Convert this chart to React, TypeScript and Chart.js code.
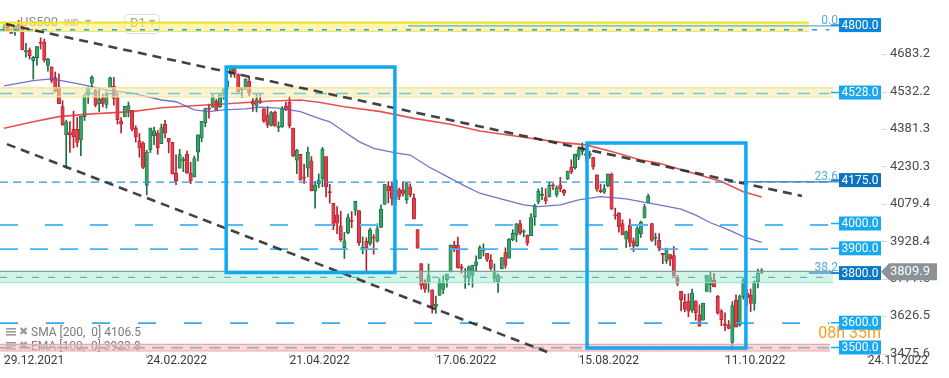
import React, { useEffect, useRef } from 'react';
import { Chart, registerables } from 'chart.js';

Chart.register(...registerables);

// ---------------- DATA ----------------
// Daily candles, 29.12.2021 .. 25.10.2022 (index 0 .. 207)
const OPEN = [
  4788, 4795, 4776, 4778, 4804, 4787, 4693, 4698, 4656, 4669,
  4728, 4733, 4637, 4632, 4588, 4548, 4471, 4357, 4367, 4380,
  4380, 4337, 4431, 4519, 4566, 4536, 4483, 4505, 4480, 4548,
  4553, 4506, 4413, 4430, 4456, 4456, 4385, 4333, 4324, 4155,
  4298, 4354, 4364, 4322, 4401, 4343, 4327, 4202, 4223, 4253,
  4280, 4202, 4188, 4288, 4345, 4407, 4462, 4469, 4494, 4470,
  4522, 4541, 4603, 4624, 4600, 4540, 4547, 4573, 4495, 4474,
  4495, 4462, 4437, 4395, 4449, 4385, 4390, 4473, 4490, 4385,
  4255, 4279, 4187, 4223, 4253, 4130, 4159, 4181, 4270, 4129,
  4081, 4035, 3991, 3903, 3963, 4014, 4053, 4052, 3900, 3928,
  3920, 3943, 3929, 3984, 4077, 4151, 4150, 4096, 4137, 4135,
  4096, 4148, 4102, 3975, 3838, 3764, 3764, 3733, 3666, 3710,
  3734, 3774, 3805, 3913, 3913, 3826, 3785, 3781, 3792, 3831,
  3858, 3888, 3880, 3851, 3779, 3764, 3818, 3883, 3860, 3935,
  3955, 4000, 3965, 3953, 3951, 4027, 4087, 4113, 4105, 4108,
  4154, 4116, 4156, 4134, 4181, 4227, 4225, 4270, 4291, 4281,
  4274, 4267, 4196, 4134, 4126, 4153, 4199, 4034, 4041, 4000,
  3937, 3994, 3930, 3910, 3959, 4022, 4083, 4000, 3940, 3932,
  3880, 3849, 3875, 3871, 3782, 3727, 3682, 3687, 3651, 3688,
  3633, 3610, 3726, 3753, 3772, 3706, 3647, 3595, 3591, 3520,
  3690, 3591, 3705, 3718, 3711, 3678, 3765, 3803,
];
const HIGH = [
  4804, 4808, 4787, 4797, 4819, 4797, 4726, 4708, 4674, 4714,
  4749, 4744, 4666, 4632, 4611, 4603, 4495, 4417, 4411, 4453,
  4428, 4432, 4516, 4550, 4595, 4542, 4540, 4522, 4531, 4590,
  4589, 4526, 4427, 4473, 4490, 4456, 4394, 4363, 4329, 4295,
  4385, 4389, 4375, 4401, 4416, 4343, 4327, 4277, 4299, 4268,
  4292, 4247, 4272, 4358, 4412, 4465, 4482, 4523, 4501, 4521,
  4546, 4576, 4637, 4627, 4604, 4549, 4583, 4593, 4504, 4521,
  4520, 4463, 4471, 4452, 4453, 4410, 4471, 4489, 4513, 4385,
  4299, 4279, 4240, 4308, 4270, 4169, 4200, 4307, 4270, 4158,
  4081, 4068, 4050, 3964, 4038, 4048, 4090, 4052, 3946, 3943,
  3982, 3955, 3999, 4075, 4158, 4169, 4166, 4177, 4143, 4168,
  4164, 4160, 4120, 3975, 3838, 3773, 3837, 3733, 3707, 3779,
  3790, 3796, 3914, 3928, 3945, 3836, 3818, 3829, 3832, 3870,
  3910, 3918, 3880, 3874, 3837, 3796, 3863, 3902, 3939, 3975,
  4000, 4013, 3975, 3954, 4040, 4078, 4140, 4145, 4140, 4167,
  4161, 4152, 4186, 4138, 4211, 4257, 4280, 4301, 4325, 4303,
  4292, 4267, 4196, 4159, 4157, 4200, 4204, 4062, 4044, 4015,
  3970, 4018, 3942, 3987, 4010, 4077, 4119, 4001, 3961, 3959,
  3880, 3901, 3877, 3907, 3790, 3727, 3715, 3717, 3736, 3688,
  3672, 3679, 3791, 3807, 3798, 3710, 3653, 3640, 3609, 3685,
  3712, 3712, 3780, 3735, 3736, 3768, 3816, 3818,
];
const LOW = [
  4778, 4775, 4766, 4758, 4774, 4700, 4671, 4663, 4582, 4638,
  4703, 4651, 4614, 4568, 4530, 4483, 4396, 4223, 4287, 4305,
  4309, 4274, 4415, 4484, 4544, 4470, 4451, 4470, 4465, 4548,
  4477, 4401, 4365, 4430, 4430, 4373, 4328, 4267, 4221, 4115,
  4286, 4318, 4279, 4322, 4345, 4285, 4199, 4157, 4223, 4209,
  4202, 4161, 4187, 4252, 4329, 4390, 4425, 4469, 4456, 4468,
  4501, 4517, 4590, 4589, 4530, 4507, 4539, 4514, 4452, 4450,
  4484, 4408, 4387, 4393, 4392, 4370, 4387, 4455, 4385, 4268,
  4201, 4175, 4162, 4188, 4131, 4062, 4144, 4148, 4107, 4082,
  3975, 3959, 3928, 3859, 3958, 3983, 4033, 3912, 3877, 3810,
  3912, 3876, 3925, 3984, 4077, 4083, 4074, 4074, 4096, 4110,
  4081, 4107, 4018, 3900, 3735, 3722, 3723, 3639, 3637, 3710,
  3717, 3743, 3805, 3886, 3820, 3799, 3738, 3752, 3743, 3809,
  3858, 3869, 3847, 3812, 3765, 3722, 3817, 3819, 3860, 3930,
  3927, 3955, 3946, 3911, 3951, 3992, 4079, 4096, 4079, 4107,
  4136, 4107, 4128, 4112, 4177, 4201, 4219, 4257, 4277, 4253,
  4263, 4218, 4130, 4124, 4121, 4147, 4057, 4017, 3965, 3954,
  3903, 3907, 3886, 3907, 3944, 4022, 4083, 3928, 3912, 3889,
  3838, 3839, 3830, 3789, 3749, 3648, 3644, 3624, 3641, 3610,
  3585, 3610, 3726, 3723, 3744, 3634, 3588, 3568, 3575, 3491,
  3582, 3585, 3695, 3668, 3645, 3650, 3740, 3798,
];
const CLOSE = [
  4793, 4778, 4766, 4797, 4793, 4701, 4696, 4677, 4670, 4713,
  4726, 4660, 4663, 4577, 4533, 4483, 4398, 4410, 4357, 4350,
  4327, 4432, 4516, 4546, 4589, 4477, 4501, 4484, 4521, 4587,
  4504, 4419, 4401, 4472, 4475, 4380, 4349, 4305, 4226, 4288,
  4385, 4374, 4306, 4387, 4364, 4329, 4201, 4171, 4278, 4260,
  4204, 4173, 4262, 4358, 4412, 4463, 4461, 4512, 4456, 4520,
  4543, 4575, 4632, 4602, 4530, 4546, 4583, 4525, 4481, 4500,
  4488, 4413, 4397, 4447, 4392, 4391, 4463, 4459, 4394, 4272,
  4296, 4175, 4183, 4288, 4132, 4155, 4175, 4300, 4147, 4123,
  3991, 4001, 3935, 3930, 4024, 4008, 4089, 3923, 3901, 3901,
  3974, 3941, 3979, 4058, 4158, 4132, 4101, 4176, 4109, 4121,
  4161, 4116, 4018, 3901, 3750, 3735, 3790, 3667, 3675, 3765,
  3760, 3796, 3912, 3900, 3821, 3819, 3785, 3825, 3831, 3845,
  3903, 3899, 3855, 3819, 3802, 3790, 3863, 3831, 3937, 3960,
  3999, 3962, 3967, 3921, 4024, 4072, 4130, 4119, 4091, 4155,
  4152, 4145, 4140, 4122, 4210, 4207, 4280, 4297, 4305, 4275,
  4284, 4228, 4138, 4128, 4141, 4199, 4058, 4031, 3986, 3955,
  3967, 3924, 3909, 3980, 4006, 4067, 4110, 3932, 3946, 3901,
  3873, 3899, 3856, 3790, 3758, 3693, 3655, 3647, 3719, 3640,
  3586, 3678, 3791, 3783, 3744, 3640, 3612, 3589, 3577, 3669,
  3583, 3705, 3770, 3700, 3678, 3765, 3800, 3809.9,
];

const X_TICK_INDEX = [0, 39, 78, 118, 157, 197, 236];
const X_TICK_LABELS = ['29.12.2021', '24.02.2022', '21.04.2022', '17.06.2022', '15.08.2022', '11.10.2022', '24.11.2022'];
const Y_TICKS = [3475.6, 3626.5, 3777.5, 3928.4, 4079.4, 4230.3, 4381.3, 4532.2, 4683.2];

// Moving averages
const SMA200_IDX = [0, 8, 15, 24, 35, 43, 55, 63, 73, 81, 86, 93, 103, 112, 122, 130, 141, 152, 159, 166, 174, 179, 187, 196, 202, 207];
const SMA200_VAL = [4384, 4410, 4431, 4442, 4451, 4467, 4478, 4485, 4494, 4498, 4489, 4471, 4451, 4424, 4400, 4373, 4350, 4327, 4317, 4290, 4256, 4243, 4209, 4169, 4128, 4106.5];
const EMA100_IDX = [0, 8, 13, 19, 24, 28, 35, 43, 47, 52, 56, 60, 66, 70, 75, 81, 86, 89, 93, 97, 101, 107, 111, 116, 122, 126, 130, 135, 142, 146, 152, 157, 163, 170, 174, 179, 185, 189, 193, 198, 202, 207];
const EMA100_VAL = [4555, 4576, 4583, 4567, 4552, 4538, 4526, 4498, 4491, 4458, 4451, 4458, 4462, 4469, 4465, 4451, 4424, 4410, 4370, 4330, 4303, 4285, 4276, 4229, 4182, 4151, 4122, 4102, 4075, 4068, 4075, 4095, 4108, 4099, 4088, 4075, 4058, 4034, 4003, 3974, 3947, 3923.8];
const SMA_LAST = 4106.5;
const EMA_LAST = 3923.8;

// Trend lines [start, end]
const TREND_UPPER_IDX = [0.5, 218.0];
const TREND_UPPER_VAL = [4804, 4111];
const TREND_LOWER_IDX = [0.8, 148.4];
const TREND_LOWER_VAL = [4320, 3482];

// Highlight boxes [left, right] x [top, bottom]
const BOX1_IDX = [60.7, 106.8];
const BOX1_VAL = [4631, 3802];
const BOX2_IDX = [159.3, 202.7];
const BOX2_VAL = [4325, 3498];

// Zones [top, bottom] and right end
const ZONE_TOP = [4810, 4547, 3807, 3513];
const ZONE_BOTTOM = [4775, 4510, 3761, 3486];
const ZONE_END = [219.9, 226.5, 226.5, 225.7];

// Horizontal dashed levels
const LEVEL_VALUES = [4781, 4524, 4167, 3994, 3897, 3783, 3598, 3499];
const LEVEL_END = 225.5;

// Fibonacci lines
const FIB_VALUES = [4797, 4168.5, 3800.4];
const FIB_LABELS = ['0.0', '23.6', '38.2'];
const FIB_START = [110.4, 201.9, 219.9];
const FIB_END = 228.1;

// Price tags
const TAG_VALUES = [4800, 4528, 4175, 4000, 3900, 3800, 3600, 3500];
const CURRENT_PRICE = 3809.9;
const COUNTDOWN = '08h 35m';
const SYMBOL = 'US500';

// ---------------- STYLE ----------------
const X_MIN = -1.093;
const X_MAX = 241.8;
const Y_MIN = 3473.8;
const Y_MAX = 4901.2;
const LEFT_EDGE = -1.093;

const BODY_UP = '#35a468';
const BODY_DN = '#e23d49';
const EDGE_UP = '#1b6e43';
const EDGE_DN = '#b3222e';
const LEVEL_COLORS = ['#1e9ee6', '#72c9d4', '#2f95d8', '#55bbf3', '#48b3f0', '#5ab3d8', '#3aaaf0', '#a4b3c8'];
const LEVEL_DASH = [[5, 9], [12, 9], [8, 5], [18, 27], [18, 12], [7, 9], [18, 28], [12, 7]];
const LEVEL_WIDTH = [1.5, 1.5, 1.2, 1.8, 1.8, 1.2, 1.8, 1.8];
const ZONE_FILL = ['rgba(252,238,120,0.55)', 'rgba(246,236,170,0.55)', 'rgba(150,232,200,0.42)', 'rgba(250,185,185,0.55)'];
const ZONE_TOP_BORDER = ['#f5e21e', '#efe190', '#7fa39a', '#f3a5a5'];
const ZONE_BOTTOM_BORDER = ['#f1e07a', '#efe190', '#97e0c2', '#f3a5a5'];
const TAG_COLORS = ['#0b86d8', '#1aa5ec', '#0b73bd', '#17a8f1', '#17a8f1', '#0a78c4', '#17a8f1', '#17a8f1'];
const BOX_COLOR = '#12a8f2';

const pts = (xs: number[], ys: number[]) => xs.map((x, i) => ({ x, y: ys[i] }));

const overlayPlugin = {
  id: 'overlay',
  beforeDatasetsDraw(chart: any) {
    const ctx = chart.ctx as CanvasRenderingContext2D;
    ctx.save();
    // header (symbol / interval)
    ctx.textBaseline = 'middle';
    ctx.textAlign = 'left';
    ctx.fillStyle = '#8a8a8a';
    ctx.font = '13px Roboto';
    ctx.fillText(SYMBOL, 20, 23);
    ctx.fillStyle = '#b3b3b3';
    ctx.font = 'bold 9px Roboto';
    ctx.fillText('IND', 64, 23.5);
    ctx.font = '8px "DejaVu Sans"';
    ctx.fillText('▼', 85, 22.5);
    ctx.strokeStyle = '#dedede';
    ctx.lineWidth = 1;
    ctx.beginPath();
    (ctx as any).roundRect(124.5, 14.5, 35, 19, 4);
    ctx.stroke();
    ctx.fillStyle = '#9a9a9a';
    ctx.font = '13px Roboto';
    ctx.fillText('D1', 130, 24);
    ctx.fillStyle = '#b3b3b3';
    ctx.font = '8px "DejaVu Sans"';
    ctx.fillText('▼', 149, 23);

    // indicator legend
    const rows: [string, number][] = [
      [`SMA [200,  0] ${SMA_LAST.toFixed(1)}`, 332],
      [`EMA [100,  0] ${EMA_LAST.toFixed(1)}`, 346],
    ];
    rows.forEach(([txt, yy]) => {
      ctx.fillStyle = '#9a9a9a';
      for (let k = 0; k < 3; k++) ctx.fillRect(6, yy - 4 + k * 3, 10, 1.6);
      ctx.font = 'bold 11px "DejaVu Sans"';
      ctx.fillText('✖', 19, yy);
      ctx.fillStyle = '#7a7a7a';
      ctx.font = '12px Roboto';
      ctx.fillText(txt, 31, yy + 0.5);
    });
    ctx.restore();
  },
  afterDraw(chart: any) {
    const ctx = chart.ctx as CanvasRenderingContext2D;
    const y = chart.scales.y;
    ctx.save();
    // small tick dashes of the price axis
    ctx.strokeStyle = '#d4d4d4';
    ctx.lineWidth = 1;
    Y_TICKS.forEach((v) => {
      const py = Math.round(y.getPixelForValue(v)) + 0.5;
      ctx.beginPath();
      ctx.moveTo(882, py);
      ctx.lineTo(887, py);
      ctx.stroke();
    });
    // fib labels
    ctx.font = '12px Roboto';
    ctx.fillStyle = '#4aaeea';
    ctx.textAlign = 'right';
    ctx.textBaseline = 'alphabetic';
    FIB_VALUES.forEach((v, k) => ctx.fillText(FIB_LABELS[k], 838, y.getPixelForValue(v) - 2));
    // countdown
    ctx.font = '16px Roboto';
    ctx.fillStyle = '#f7a11e';
    ctx.textBaseline = 'middle';
    ctx.fillText(COUNTDOWN, 881, (y.getPixelForValue(3600) + y.getPixelForValue(3500)) / 2 - 1);
    // level tags
    TAG_VALUES.forEach((v, k) => {
      const py = y.getPixelForValue(v);
      ctx.fillStyle = TAG_COLORS[k];
      ctx.fillRect(831, py - 0.75, 8, 1.5);
      ctx.fillRect(839, py - 7, 42, 14);
      ctx.fillStyle = '#ffffff';
      ctx.font = '12px Roboto';
      ctx.textAlign = 'center';
      ctx.textBaseline = 'middle';
      ctx.fillText(v.toFixed(1), 860, py + 0.5);
    });
    // current price tag
    const cy = y.getPixelForValue(CURRENT_PRICE) + 1;
    ctx.fillStyle = '#8b9396';
    ctx.beginPath();
    ctx.moveTo(881, cy);
    ctx.lineTo(889, cy - 8.5);
    ctx.lineTo(937, cy - 8.5);
    ctx.lineTo(937, cy + 8.5);
    ctx.lineTo(889, cy + 8.5);
    ctx.closePath();
    ctx.fill();
    ctx.fillStyle = '#ffffff';
    ctx.font = '13px Roboto';
    ctx.textAlign = 'left';
    ctx.textBaseline = 'middle';
    ctx.fillText(CURRENT_PRICE.toFixed(1), 890, cy + 0.5);
    ctx.restore();
  },
};

export default function App() {
  const ref = useRef<HTMLCanvasElement>(null);

  useEffect(() => {
    document.body.style.margin = '0';
    const canvas = ref.current;
    if (!canvas) return;
    Chart.defaults.font.family = 'Roboto, "DejaVu Sans", sans-serif';

    const idx = CLOSE.map((_, i) => i);
    const up = CLOSE.map((c, i) => c >= OPEN[i]);

    const datasets: any[] = [];
    datasets.push({
      type: 'bar',
      data: idx.map((i) => ({ x: i, y: [LOW[i], HIGH[i]] })),
      backgroundColor: up.map((u) => (u ? EDGE_UP : EDGE_DN)),
      borderWidth: 0,
      barThickness: 1,
      grouped: false,
      order: 20,
    });
    datasets.push({
      type: 'bar',
      data: idx.map((i) => ({ x: i, y: [OPEN[i], CLOSE[i]] })),
      backgroundColor: up.map((u) => (u ? BODY_UP : BODY_DN)),
      borderColor: up.map((u) => (u ? EDGE_UP : EDGE_DN)),
      borderWidth: 0.8,
      borderSkipped: false,
      barThickness: 3.4,
      minBarLength: 1,
      grouped: false,
      order: 19,
    });

    const line = (data: any[], color: string, width: number, dash: number[], order: number, extra: any = {}) => ({
      type: 'line',
      data,
      borderColor: color,
      backgroundColor: color,
      borderWidth: width,
      borderDash: dash,
      pointRadius: 0,
      pointHoverRadius: 0,
      tension: 0,
      fill: false,
      order,
      ...extra,
    });

    datasets.push(line(pts(SMA200_IDX, SMA200_VAL), 'rgba(228,50,50,0.85)', 1.6, [], 15));
    datasets.push(line(pts(EMA100_IDX, EMA100_VAL), 'rgba(88,92,190,0.85)', 1.3, [], 14));

    ZONE_TOP.forEach((top, k) => {
      const end = ZONE_END[k];
      datasets.push(
        line(pts([LEFT_EDGE, end], [top, top]), ZONE_TOP_BORDER[k], k === 0 ? 2 : 1.2, [], 10, {
          fill: '+1',
          backgroundColor: ZONE_FILL[k],
        })
      );
      datasets.push(line(pts([LEFT_EDGE, end], [ZONE_BOTTOM[k], ZONE_BOTTOM[k]]), ZONE_BOTTOM_BORDER[k], 1.2, [], 10));
    });

    LEVEL_VALUES.forEach((v, k) => {
      datasets.push(line(pts([LEFT_EDGE, LEVEL_END], [v, v]), LEVEL_COLORS[k], LEVEL_WIDTH[k], LEVEL_DASH[k], 8));
    });

    FIB_VALUES.forEach((v, k) => {
      datasets.push(line(pts([FIB_START[k], FIB_END], [v, v]), k === 0 ? '#5eaed0' : '#4a92c8', 1.4, [], 7));
    });

    datasets.push(line(pts(TREND_UPPER_IDX, TREND_UPPER_VAL), 'rgba(40,40,40,0.88)', 2.6, [9, 6], 6));
    datasets.push(line(pts(TREND_LOWER_IDX, TREND_LOWER_VAL), 'rgba(40,40,40,0.88)', 2.6, [9, 6], 6));

    const rect = (xs: number[], ys: number[]) =>
      pts([xs[0], xs[1], xs[1], xs[0], xs[0]], [ys[0], ys[0], ys[1], ys[1], ys[0]]);
    datasets.push(line(rect(BOX1_IDX, BOX1_VAL), BOX_COLOR, 3.5, [], 5, { borderJoinStyle: 'miter', borderCapStyle: 'square' }));
    datasets.push(line(rect(BOX2_IDX, BOX2_VAL), BOX_COLOR, 3.5, [], 5, { borderJoinStyle: 'miter', borderCapStyle: 'square' }));

    const chart = new Chart(canvas, {
      type: 'bar',
      data: { datasets },
      options: {
        responsive: false,
        animation: false,
        devicePixelRatio: 1,
        layout: { padding: 0 },
        events: [],
        plugins: { legend: { display: false }, tooltip: { enabled: false } },
        scales: {
          x: {
            type: 'linear',
            min: X_MIN,
            max: X_MAX,
            offset: false,
            afterBuildTicks: (ax: any) => {
              ax.ticks = X_TICK_INDEX.map((v) => ({ value: v }));
            },
            afterFit: (ax: any) => {
              ax.height = 24;
              ax.paddingLeft = 0;
              ax.paddingRight = 0;
            },
            ticks: {
              autoSkip: false,
              maxRotation: 0,
              minRotation: 0,
              align: 'start',
              padding: -4,
              color: '#3a3a3a',
              font: { size: 12 },
              callback: (v: any) => {
                const k = X_TICK_INDEX.indexOf(Number(v));
                return k >= 0 ? X_TICK_LABELS[k] : '';
              },
            },
            grid: { display: true, drawOnChartArea: false, drawTicks: true, tickLength: 4, color: '#c9c9c9', offset: false },
            border: { display: false },
          },
          y: {
            type: 'linear',
            position: 'right',
            min: Y_MIN,
            max: Y_MAX,
            beginAtZero: false,
            afterBuildTicks: (ax: any) => {
              ax.ticks = Y_TICKS.map((v) => ({ value: v }));
            },
            afterFit: (ax: any) => {
              ax.width = 60;
              ax.paddingTop = 0;
              ax.paddingBottom = 0;
            },
            ticks: {
              padding: 1,
              color: '#4a4a4a',
              font: { size: 13 },
              callback: (v: any) => Number(v).toFixed(1),
            },
            grid: { display: false, drawTicks: false, tickLength: 0 },
            border: { display: false },
          },
        },
      } as any,
      plugins: [overlayPlugin as any],
    } as any);

    return () => chart.destroy();
  }, []);

  return (
    <div style={{ width: 949, height: 378, background: '#ffffff' }}>
      <canvas ref={ref} width={949} height={378} style={{ display: 'block' }} />
    </div>
  );
}
